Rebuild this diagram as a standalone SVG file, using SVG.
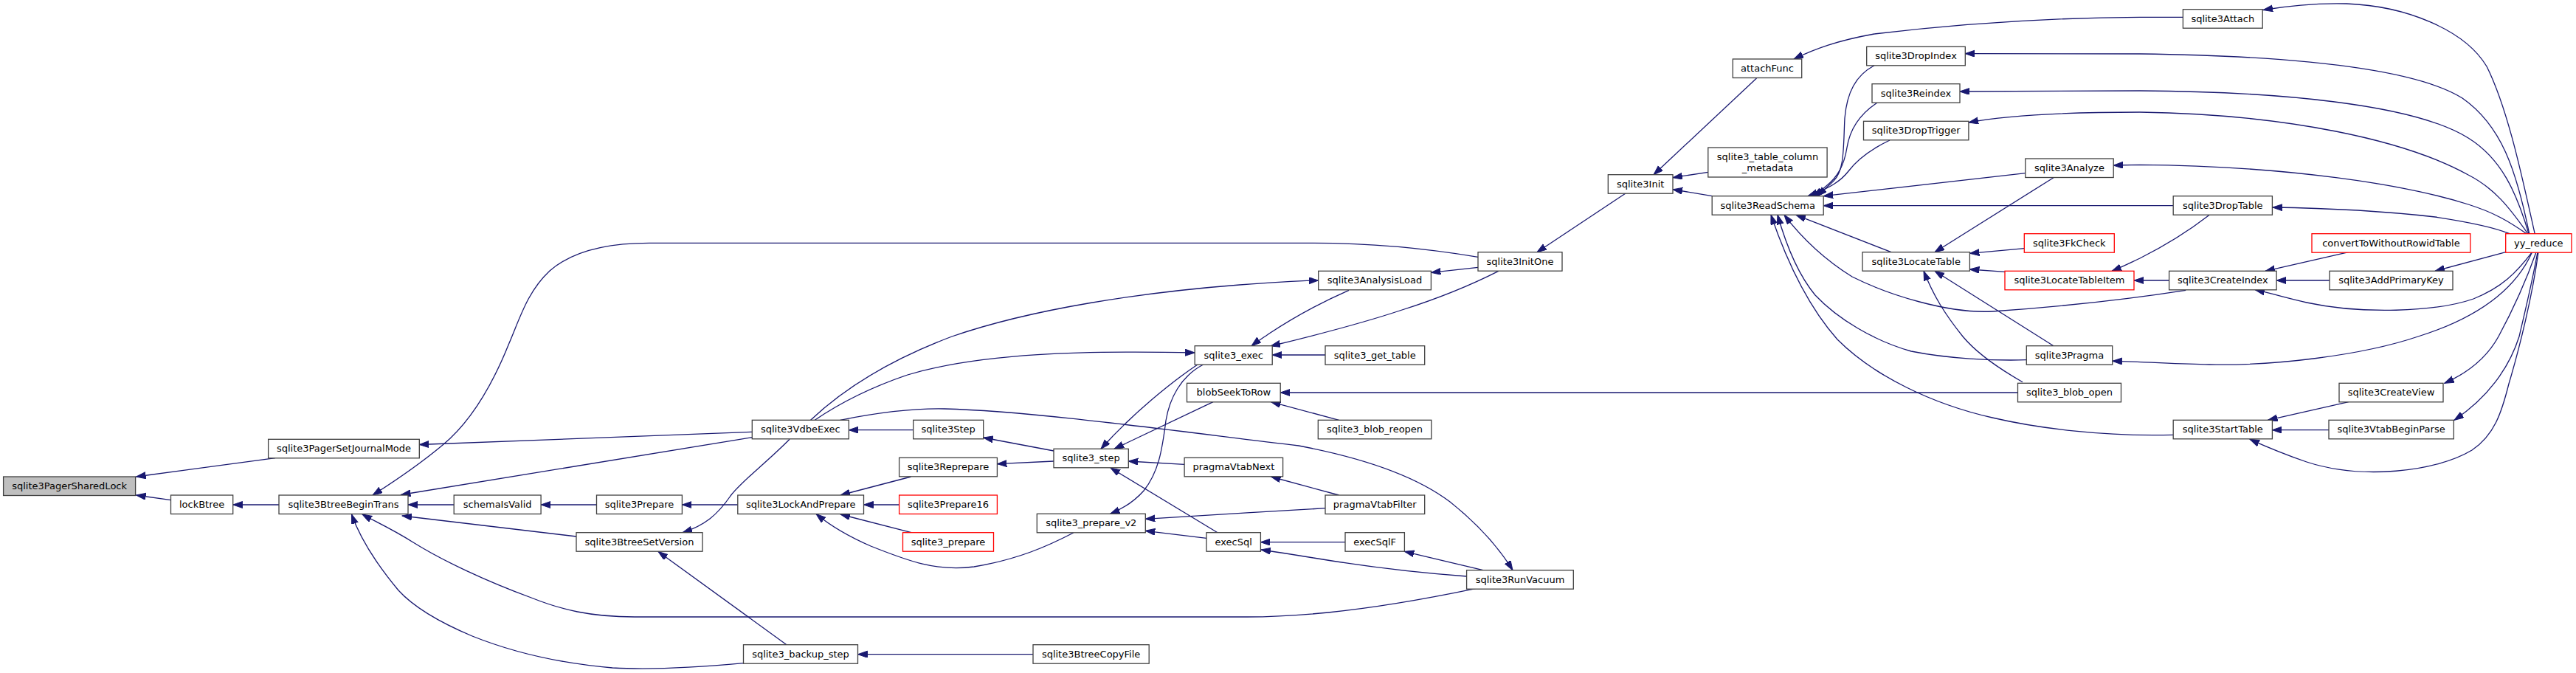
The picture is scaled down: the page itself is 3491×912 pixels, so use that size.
<svg xmlns="http://www.w3.org/2000/svg" width="3491" height="912" viewBox="0 0 3491 912">
<style>
.n rect{fill:#ffffff;stroke:#404040;stroke-width:1.3}
.r rect{stroke:#ff0000}
.root rect{fill:#bfbfbf}
text{font-family:"DejaVu Sans","Liberation Sans",sans-serif;font-size:13px;text-anchor:middle;fill:#000000}
#edges path{fill:none;stroke:#191970;stroke-width:1.3;marker-end:url(#ah)}
</style>
<defs>
<marker id="ah" markerUnits="userSpaceOnUse" markerWidth="14" markerHeight="10" refX="13" refY="4.5" orient="auto">
<path d="M0,0 L13,4.5 L0,9 z" fill="#191970" stroke="#191970" stroke-width="1"/>
</marker>
</defs>
<rect x="0" y="0" width="3491" height="912" fill="#ffffff"/>
<g id="edges">
<path d="M373,620.7 L184.5,646"/>
<path d="M231.5,677.7 L184.5,671"/>
<path d="M378,684 L315.7,684"/>
<path d="M1019.3,585.3 C850,592 700,598 568.3,602.5"/>
<path d="M1019.3,592.7 L543.4,670.5"/>
<path d="M615.2,684 L553,684"/>
<path d="M781,727 L545,699"/>
<path d="M2003,348.3 C1930,336 1850,329.3 1780,329.3 L880,329.3 C810,329.3 770,345 745,367 C715,395 705,430 690,465 C670,515 640,570 600,603 C570,628 535,652 505,671"/>
<path d="M1999.5,797.7 C1950,808 1870,823 1800,830 C1750,835 1720,836 1690,836 L860,836 C800,836 760,826 720,810 C660,788 600,760 560,735 C530,716 505,705 491,697"/>
<path d="M1007.5,898.7 C950,904 880,908 830,905 C760,899 700,886 640,862 C595,843 560,822 540,800 C515,770 490,735 476.5,697"/>
<path d="M808.5,684 L733.1,684"/>
<path d="M999.8,684 L924.4,684"/>
<path d="M1070,595.3 C1040,626 1005,652 990,672 C972,698 955,712 925,721.7"/>
<path d="M1066,873.7 L892,747.5"/>
<path d="M1400,886.7 L1162.5,886.7"/>
<path d="M1237.7,582.7 L1150.3,582.7"/>
<path d="M1104.3,569.3 C1140,545 1180,525 1230,508 C1330,478 1470,475 1619.2,478"/>
<path d="M1098.6,569.3 C1140,530 1200,490 1290,456 C1400,418 1550,396 1680,386 C1720,383 1760,380.5 1786.7,380"/>
<path d="M1138.7,569.3 C1180,561 1230,553 1280,554 C1400,557 1600,585 1760,604 C1850,621 1920,646 1965,680 C2005,712 2033,745 2050,772.7"/>
<path d="M1623,494 C1590,516 1535,560 1492,608.3"/>
<path d="M1644,544.7 L1510,608.3"/>
<path d="M1428,611 L1332.6,593"/>
<path d="M1428,625 L1351.4,628.7"/>
<path d="M1605.1,629.3 L1529.3,625"/>
<path d="M1650,721.7 L1505,634"/>
<path d="M1630.7,494 C1600,510 1585,540 1580,570 C1575,610 1570,640 1550,665 C1535,682 1520,690 1504.5,696.3"/>
<path d="M1796,688.7 C1720,693 1620,699 1552.3,703.3"/>
<path d="M1635,729.3 L1552.3,719.3"/>
<path d="M1823,734.7 L1708.4,734.7"/>
<path d="M1987.6,781 C1920,776 1840,766 1780,756 C1750,751 1730,748 1709,745"/>
<path d="M2009.8,772.7 L1903.4,747.3"/>
<path d="M1814.6,671 L1722.5,646"/>
<path d="M2734.5,532 L1735.2,532"/>
<path d="M1814.6,569.3 L1722.5,544.7"/>
<path d="M2030.8,367.3 C1990,388 1950,404 1900,420 C1840,440 1780,455 1722,469"/>
<path d="M1828,393.3 C1790,410 1750,432 1720,452 C1710,459 1702,464 1696,468.7"/>
<path d="M1796,481 L1724.1,481"/>
<path d="M2003,362.3 L1939.4,369.3"/>
<path d="M2203,262 L2083,341.7"/>
<path d="M2380.5,106 L2241,236.7"/>
<path d="M2314.8,233.3 L2267,240.7"/>
<path d="M2320.2,265.7 L2267,256.7"/>
<path d="M2958.4,23.3 L2900,23.3 C2780,24 2650,33 2540,46 C2490,55 2460,66 2431,80"/>
<path d="M3435.2,316.7 C3420,250 3400,150 3370,90 C3340,40 3260,8 3180,5 C3140,4 3100,8 3067,13.5"/>
<path d="M2540,88.7 C2515,102 2503,125 2500,160 C2498,200 2500,230 2485,245 C2478,252 2470,259 2463,265.7"/>
<path d="M2543.9,139.3 C2520,155 2507,175 2503,200 C2499,225 2490,240 2475,252 C2468,258 2463,262 2457,265.7"/>
<path d="M2561,190 C2540,200 2520,212 2505,232 C2495,245 2480,255 2450,265.7"/>
<path d="M2744.8,234.7 L2471.2,265.7"/>
<path d="M2945.2,278.7 L2471.2,278.7"/>
<path d="M2563,341.7 L2434,291.3"/>
<path d="M2962.2,393.3 C2900,403 2800,415 2700,422 C2640,425 2560,400 2510,375 C2470,350 2440,320 2418,291.3"/>
<path d="M2746.3,487.7 C2700,489 2640,486 2590,476 C2540,462 2490,432 2460,400 C2435,370 2420,330 2409,291.3"/>
<path d="M2945.2,589.3 C2850,592 2760,580 2700,566 C2620,548 2540,510 2490,460 C2450,415 2420,350 2400,291.3"/>
<path d="M2716.9,368.3 L2669.4,365"/>
<path d="M2743.3,336.7 L2669.4,343.3"/>
<path d="M2783,240.7 L2622,341.7"/>
<path d="M2741,517.7 C2710,500 2680,480 2660,456 C2635,425 2620,400 2607,367.3"/>
<path d="M2783,468.7 L2622,367.3"/>
<path d="M2939.6,380 L2892.1,380"/>
<path d="M2994.2,291.3 C2970,310 2940,330 2900,350 C2885,357 2875,362 2862,367.3"/>
<path d="M3427.7,316.7 C3410,230 3390,170 3337,133 C3260,85 3050,75 2900,73 L2663.3,72.7"/>
<path d="M3427,316.7 C3410,260 3390,215 3345,187 C3270,140 3080,124 2900,123 L2656,124"/>
<path d="M3425.8,316.7 C3400,280 3380,255 3345,237 C3260,190 3100,155 2900,152 C2800,152 2720,156 2668,166"/>
<path d="M3424,316.7 C3400,300 3380,288 3345,277 C3260,250 3100,225 2900,223.3 L2864.2,224"/>
<path d="M3401,316.7 C3380,308 3340,300 3300,294 C3230,286 3150,282 3080,281"/>
<path d="M3395.7,341.7 L3300,367.3"/>
<path d="M3431.5,341.7 C3410,370 3390,390 3352,405 C3300,423 3200,426 3126,410 C3100,404 3080,398 3056,392.7"/>
<path d="M3182.7,341.7 L3070,367.3"/>
<path d="M3157,380 L3085.1,380"/>
<path d="M3431.5,341.7 C3410,390 3360,430 3277,456 C3200,482 3080,496 2994,494 C2950,493 2900,490 2862.7,489.3"/>
<path d="M3437,341.7 C3420,390 3400,430 3386,456 C3370,485 3345,505 3312.7,519.3"/>
<path d="M3439,341.7 C3430,390 3420,430 3414,456 C3400,500 3370,540 3326,569.3"/>
<path d="M3440,341.7 C3432,400 3415,470 3400,520 C3390,560 3380,590 3350,610 C3300,640 3200,650 3126,626 C3100,617 3075,607 3049,595.3"/>
<path d="M3182.7,544.7 L3073.4,569.3"/>
<path d="M3156,582.7 L3079.4,582.7"/>
<path d="M1234.6,646 L1139,671"/>
<path d="M1218.6,684 L1170.5,684"/>
<path d="M1235,721.7 L1139,697"/>
<path d="M1454.7,722 C1420,740 1380,758 1320,768 C1270,775 1230,760 1180,740 C1150,727 1125,712 1106,696.5"/>
</g>
<g id="n1" class="n root"><rect x="4.6" y="646" width="179" height="25.5"/><text x="94.1" y="663">sqlite3PagerSharedLock</text></g>
<g id="n2" class="n"><rect x="363.6" y="595.3" width="204.7" height="25.5"/><text x="466" y="612.3">sqlite3PagerSetJournalMode</text></g>
<g id="n3" class="n"><rect x="231.5" y="671" width="84.2" height="25.5"/><text x="273.6" y="688">lockBtree</text></g>
<g id="n4" class="n"><rect x="378" y="671" width="175" height="25.5"/><text x="465.5" y="688">sqlite3BtreeBeginTrans</text></g>
<g id="n5" class="n"><rect x="615.2" y="671" width="117.9" height="25.5"/><text x="674.2" y="688">schemaIsValid</text></g>
<g id="n6" class="n"><rect x="808.5" y="671" width="115.9" height="25.5"/><text x="866.5" y="688">sqlite3Prepare</text></g>
<g id="n7" class="n"><rect x="781" y="721.7" width="171" height="25.5"/><text x="866.5" y="738.7">sqlite3BtreeSetVersion</text></g>
<g id="n8" class="n"><rect x="1019.3" y="569.3" width="131" height="25.5"/><text x="1084.8" y="586.3">sqlite3VdbeExec</text></g>
<g id="n9" class="n"><rect x="999.8" y="671" width="170.7" height="25.5"/><text x="1085.2" y="688">sqlite3LockAndPrepare</text></g>
<g id="n10" class="n"><rect x="1007.5" y="873.7" width="155" height="25.5"/><text x="1085" y="890.7">sqlite3_backup_step</text></g>
<g id="n11" class="n"><rect x="1237.7" y="569.3" width="95" height="25.5"/><text x="1285.2" y="586.3">sqlite3Step</text></g>
<g id="n12" class="n"><rect x="1218.6" y="620.3" width="132.8" height="25.5"/><text x="1285" y="637.3">sqlite3Reprepare</text></g>
<g id="n13" class="n r"><rect x="1218.6" y="671" width="132.8" height="25.5"/><text x="1285" y="688">sqlite3Prepare16</text></g>
<g id="n14" class="n r"><rect x="1223.5" y="721.7" width="123" height="25.5"/><text x="1285" y="738.7">sqlite3_prepare</text></g>
<g id="n15" class="n"><rect x="1428" y="608.3" width="101.3" height="25.5"/><text x="1478.6" y="625.3">sqlite3_step</text></g>
<g id="n16" class="n"><rect x="1405.3" y="696.3" width="147" height="25.5"/><text x="1478.8" y="713.3">sqlite3_prepare_v2</text></g>
<g id="n17" class="n"><rect x="1400" y="873.7" width="157.2" height="25.5"/><text x="1478.6" y="890.7">sqlite3BtreeCopyFile</text></g>
<g id="n18" class="n"><rect x="1619.2" y="468.7" width="105" height="25.5"/><text x="1671.7" y="485.7">sqlite3_exec</text></g>
<g id="n19" class="n"><rect x="1608.5" y="519.3" width="126.7" height="25.5"/><text x="1671.9" y="536.3">blobSeekToRow</text></g>
<g id="n20" class="n"><rect x="1605.1" y="620.3" width="133.5" height="25.5"/><text x="1671.9" y="637.3">pragmaVtabNext</text></g>
<g id="n21" class="n"><rect x="1635" y="721.7" width="73.4" height="25.5"/><text x="1671.7" y="738.7">execSql</text></g>
<g id="n22" class="n"><rect x="1796" y="468.7" width="134.7" height="25.5"/><text x="1863.3" y="485.7">sqlite3_get_table</text></g>
<g id="n23" class="n"><rect x="1786.3" y="569.3" width="153.5" height="25.5"/><text x="1863" y="586.3">sqlite3_blob_reopen</text></g>
<g id="n24" class="n"><rect x="1796" y="671" width="134.7" height="25.5"/><text x="1863.3" y="688">pragmaVtabFilter</text></g>
<g id="n25" class="n"><rect x="1823" y="721.7" width="80.4" height="25.5"/><text x="1863.2" y="738.7">execSqlF</text></g>
<g id="n26" class="n"><rect x="1786.7" y="367.3" width="152.7" height="25.5"/><text x="1863" y="384.3">sqlite3AnalysisLoad</text></g>
<g id="n27" class="n"><rect x="1987.6" y="772.7" width="144.7" height="25.5"/><text x="2060" y="789.7">sqlite3RunVacuum</text></g>
<g id="n28" class="n"><rect x="2003" y="341.7" width="114" height="25.5"/><text x="2060" y="358.7">sqlite3InitOne</text></g>
<g id="n29" class="n"><rect x="2179.3" y="236.7" width="87.7" height="25.5"/><text x="2223.2" y="253.7">sqlite3Init</text></g>
<g id="n30" class="n"><rect x="2314.8" y="200" width="161.3" height="40"/><text x="2395.5" y="216.5">sqlite3_table_column</text><text x="2395.5" y="231.5">_metadata</text></g>
<g id="n31" class="n"><rect x="2320.2" y="265.7" width="151" height="25.5"/><text x="2395.7" y="282.7">sqlite3ReadSchema</text></g>
<g id="n32" class="n"><rect x="2348.3" y="80" width="93.4" height="25.5"/><text x="2395" y="97">attachFunc</text></g>
<g id="n33" class="n"><rect x="2529.7" y="63.3" width="133.6" height="25.5"/><text x="2596.5" y="80.3">sqlite3DropIndex</text></g>
<g id="n34" class="n"><rect x="2537" y="113.7" width="119" height="25.5"/><text x="2596.5" y="130.7">sqlite3Reindex</text></g>
<g id="n35" class="n"><rect x="2525.5" y="164.3" width="142.4" height="25.5"/><text x="2596.7" y="181.3">sqlite3DropTrigger</text></g>
<g id="n36" class="n"><rect x="2524" y="341.7" width="145.4" height="25.5"/><text x="2596.7" y="358.7">sqlite3LocateTable</text></g>
<g id="n37" class="n"><rect x="2744.8" y="215" width="119.4" height="25.5"/><text x="2804.5" y="232">sqlite3Analyze</text></g>
<g id="n38" class="n r"><rect x="2743.3" y="316.7" width="122" height="25.5"/><text x="2804.3" y="333.7">sqlite3FkCheck</text></g>
<g id="n39" class="n r"><rect x="2717" y="367.3" width="175" height="25.5"/><text x="2804.5" y="384.3">sqlite3LocateTableItem</text></g>
<g id="n40" class="n"><rect x="2746.3" y="468.7" width="116.4" height="25.5"/><text x="2804.5" y="485.7">sqlite3Pragma</text></g>
<g id="n41" class="n"><rect x="2734.5" y="519.3" width="140" height="25.5"/><text x="2804.5" y="536.3">sqlite3_blob_open</text></g>
<g id="n42" class="n"><rect x="2958.4" y="12.7" width="107.8" height="25.5"/><text x="3012.3" y="29.7">sqlite3Attach</text></g>
<g id="n43" class="n"><rect x="2945.2" y="265.7" width="134.2" height="25.5"/><text x="3012.3" y="282.7">sqlite3DropTable</text></g>
<g id="n44" class="n"><rect x="2939.6" y="367.3" width="145.5" height="25.5"/><text x="3012.4" y="384.3">sqlite3CreateIndex</text></g>
<g id="n45" class="n"><rect x="2945.2" y="569.3" width="134.2" height="25.5"/><text x="3012.3" y="586.3">sqlite3StartTable</text></g>
<g id="n46" class="n r"><rect x="3133" y="316.7" width="214.8" height="25.5"/><text x="3240.4" y="333.7">convertToWithoutRowidTable</text></g>
<g id="n47" class="n"><rect x="3157" y="367.3" width="167" height="25.5"/><text x="3240.5" y="384.3">sqlite3AddPrimaryKey</text></g>
<g id="n48" class="n"><rect x="3170" y="519.3" width="141" height="25.5"/><text x="3240.5" y="536.3">sqlite3CreateView</text></g>
<g id="n49" class="n"><rect x="3156" y="569.3" width="169.3" height="25.5"/><text x="3240.6" y="586.3">sqlite3VtabBeginParse</text></g>
<g id="n50" class="n r"><rect x="3395.7" y="316.7" width="89.3" height="25.5"/><text x="3440.3" y="333.7">yy_reduce</text></g>
</svg>
